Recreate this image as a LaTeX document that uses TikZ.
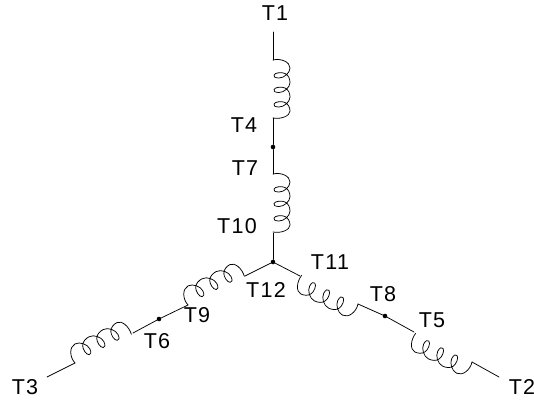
\documentclass[tikz,border=0pt]{standalone}
\usepackage{fontspec}
\setmainfont{Liberation Sans}[LetterSpace=6]
\tikzset{
  wire/.style={line width=0.75pt,line cap=round,line join=round},
  lbl/.style={font=\fontsize{21.5}{23}\selectfont,inner sep=0pt,text=black},
  junction/.style={circle,fill=black,inner sep=0pt,minimum size=4.6pt},
  coil/.pic={
    \draw[wire] (0,0) .. controls (8,-2) and (17,2) .. (17,8)
      .. controls (17,13) and (11,18) .. (6,18)
      .. controls (2,18) and (0,16.5) .. (1,15)
      .. controls (2,12.5) and (9,12) .. (12,13.5)
      .. controls (15.5,15) and (17,19) .. (17,22.5)
      .. controls (17,27.5) and (11,32.5) .. (6,32.5)
      .. controls (2,32.5) and (0,31) .. (1,29.5)
      .. controls (2,27) and (9,26.5) .. (12,28)
      .. controls (15.5,29.5) and (17,33.5) .. (17,37)
      .. controls (17,42) and (11,47) .. (6,47)
      .. controls (2,47) and (0,45.5) .. (1,44)
      .. controls (2,41.5) and (9,41) .. (12,42.5)
      .. controls (15.5,44) and (17,48) .. (17,51)
      .. controls (17,56) and (8,59.5) .. (0,58);
  }
}
\begin{document}
\begin{tikzpicture}[x=1pt,y=-1pt]
\useasboundingbox (0,0) rectangle (534,400);
% junctions
\node[junction] (c) at (273,262) {};
\node[junction] (j1) at (273,147) {};
\node[junction] (j2) at (159,319) {};
\node[junction] (j3) at (385,316) {};
% coil ends
\coordinate (t1) at (273,32);
\coordinate (a1) at (273,60);
\coordinate (a2) at (273,118);
\coordinate (a3) at (273,174);
\coordinate (a4) at (273,233);
\coordinate (b1) at (245,276);
\coordinate (b2) at (188,305);
\coordinate (b3) at (133,333);
\coordinate (b4) at (75,363);
\coordinate (t3) at (47,377);
\coordinate (d1) at (300,276);
\coordinate (d2) at (358,304);
\coordinate (d3) at (414,332);
\coordinate (d4) at (472,362);
\coordinate (t2) at (499,377);
% wires
\draw[wire] (t1) -- (a1);
\draw[wire] (a2) -- (j1) -- (a3);
\draw[wire] (a4) -- (c);
\draw[wire] (c) -- (b1);
\draw[wire] (b2) -- (j2) -- (b3);
\draw[wire] (b4) -- (t3);
\draw[wire] (c) -- (d1);
\draw[wire] (d2) -- (j3) -- (d3);
\draw[wire] (d4) -- (t2);
% coils
\pic at (a1) {coil};
\pic at (a3) {coil};
\pic[rotate=117,yscale=1.09] at (b2) {coil};
\pic[rotate=117,yscale=1.09] at (b4) {coil};
\pic[rotate=-117,yscale=1.09] at (d2) {coil};
\pic[rotate=-117,yscale=1.09] at (d4) {coil};
% labels
\node[lbl] (lt1) at (275,13) {T1};
\node[lbl] (lt4) at (244,125) {T4};
\node[lbl] (lt7) at (245,168) {T7};
\node[lbl] (lt10) at (237,226) {T10};
\node[lbl] (lt11) at (330,262) {T11};
\node[lbl] (lt12) at (266,290) {T12};
\node[lbl] (lt9) at (197,315) {T9};
\node[lbl] (lt6) at (157,341) {T6};
\node[lbl] (lt3) at (25,387) {T3};
\node[lbl] (lt8) at (383,294) {T8};
\node[lbl] (lt5) at (432,320) {T5};
\node[lbl] (lt2) at (522,387) {T2};
\end{tikzpicture}
\end{document}
